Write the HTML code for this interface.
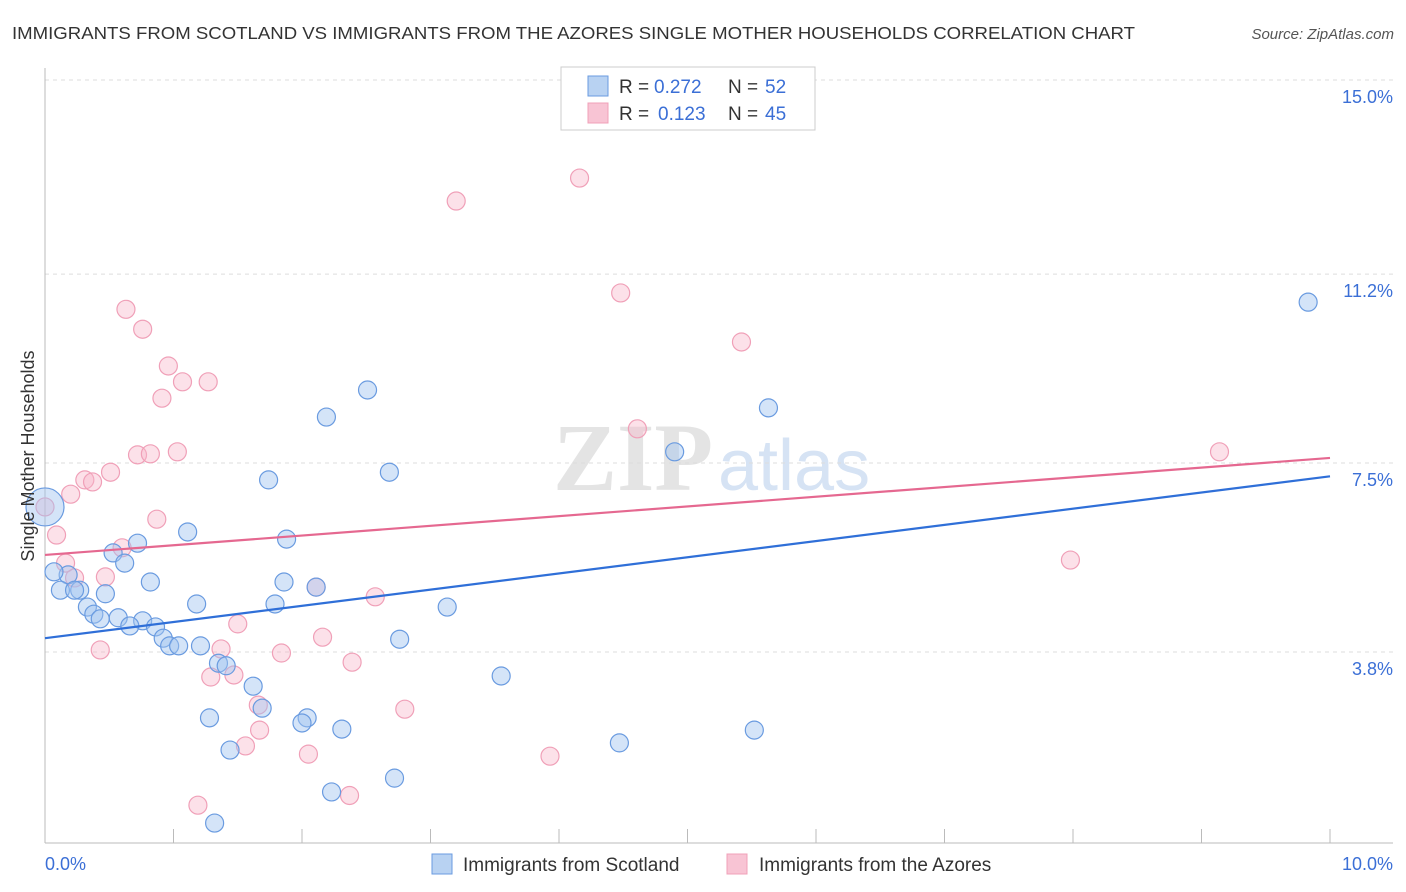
<!DOCTYPE html>
<html><head><meta charset="utf-8"><style>
body{margin:0;background:#fff;font-family:"Liberation Sans",sans-serif}
svg{display:block}
</style></head><body>
<svg id="c" width="1406" height="892">
<text x="12" y="39" font-size="17.5" fill="#333" textLength="1123" lengthAdjust="spacingAndGlyphs">IMMIGRANTS FROM SCOTLAND VS IMMIGRANTS FROM THE AZORES SINGLE MOTHER HOUSEHOLDS CORRELATION CHART</text>
<text x="1394" y="39" font-size="15" fill="#555" font-style="italic" text-anchor="end">Source: ZipAtlas.com</text>
<g><text x="553" y="490" font-size="96" font-family="Liberation Serif" fill="#e4e4e4" font-weight="bold">ZIP</text><text x="718" y="490" font-size="72" fill="#d6e3f4">atlas</text></g>
<g id="grid"></g><g id="axes"></g><g id="pts"></g><g id="lines"></g>
<text transform="translate(34,456) rotate(-90)" font-size="18" fill="#333" text-anchor="middle">Single Mother Households</text>
<g>
<rect x="561" y="67" width="254" height="63" fill="#fff" stroke="#ccc"/>
<rect x="588" y="76" width="20" height="20" fill="#b8d2f2" stroke="#6a9be0"/>
<rect x="588" y="103" width="20" height="20" fill="#f8c4d4" stroke="#f0a0b8"/>
<text x="619" y="93" font-size="19" fill="#333">R =</text><text x="654" y="93" font-size="19" fill="#3b6fd6">0.272</text>
<text x="728" y="93" font-size="19" fill="#333">N =</text><text x="765" y="93" font-size="19" fill="#3b6fd6">52</text>
<text x="619" y="120" font-size="19" fill="#333">R =</text><text x="658" y="120" font-size="19" fill="#3b6fd6">0.123</text>
<text x="728" y="120" font-size="19" fill="#333">N =</text><text x="765" y="120" font-size="19" fill="#3b6fd6">45</text>
</g>
<g>
<rect x="432" y="854" width="20" height="20" fill="#b8d2f2" stroke="#6a9be0"/>
<text x="463" y="871" font-size="19" fill="#333">Immigrants from Scotland</text>
<rect x="727" y="854" width="20" height="20" fill="#f8c4d4" stroke="#f0a0b8"/>
<text x="759" y="871" font-size="19" fill="#333">Immigrants from the Azores</text>
</g>
</svg>
<script>
const yTicks=[15.0,11.2,7.5,3.8];
const yTickLabels=["15.0%","11.2%","7.5%","3.8%"];
const xTickLabels=["0.0%","10.0%"];
const blueX=[9.83,5.63,2.51,2.19,4.90,2.68,1.74,1.11,1.88,0.72,0.53,0.62,0.18,0.07,0.82,1.86,2.11,0.12,0.27,0.23,0.47,1.18,1.79,3.13,0.33,0.38,0.43,0.57,0.76,0.66,0.86,0.92,0.97,1.04,1.21,2.76,1.35,1.41,1.62,3.55,1.69,1.28,2.04,2.00,2.31,5.52,4.47,1.44,2.72,2.23,1.32,0.0];
const blueY=[10.65,8.58,8.93,8.40,7.72,7.32,7.17,6.15,6.01,5.93,5.74,5.54,5.31,5.37,5.17,5.17,5.07,5.01,5.01,5.01,4.94,4.74,4.74,4.68,4.68,4.54,4.45,4.47,4.41,4.31,4.29,4.07,3.92,3.92,3.92,4.05,3.58,3.53,3.13,3.33,2.70,2.51,2.51,2.41,2.29,2.27,2.02,1.88,1.33,1.06,0.45,6.64];
const pinkX=[4.16,3.20,4.48,0.63,0.76,5.42,0.96,1.07,1.27,0.91,4.61,0.72,0.82,1.03,0.51,0.31,0.37,0.20,0.0,0.87,0.09,0.16,0.60,9.14,7.98,0.23,0.47,2.11,2.57,1.50,0.43,2.16,1.37,1.84,2.39,1.29,1.47,1.66,2.80,1.67,1.56,2.05,3.93,1.19,2.37];
const pinkY=[13.08,12.63,10.83,10.51,10.12,9.87,9.40,9.09,9.09,8.77,8.17,7.66,7.68,7.72,7.32,7.17,7.13,6.89,6.64,6.40,6.09,5.54,5.84,7.72,5.60,5.25,5.27,5.07,4.88,4.35,3.84,4.09,3.86,3.78,3.60,3.31,3.35,2.76,2.68,2.27,1.96,1.80,1.76,0.80,0.99];
const blueTrend=[4.07,7.24];
const pinkTrend=[5.70,7.60];
const NS="http://www.w3.org/2000/svg";
const xs=v=>45+v*128.5, ys=v=>80+(15-v)*51.07;
function mk(t,a,p){const e=document.createElementNS(NS,t);for(const k in a)e.setAttribute(k,a[k]);p.appendChild(e);return e;}
const grid=document.getElementById('grid'),axes=document.getElementById('axes');
yTicks.forEach((v,i)=>{
 const l=mk('line',{x1:45,x2:1393,y1:ys(v),y2:ys(v),stroke:'#ddd','stroke-dasharray':'4,4'},grid);
 
 
 const t=mk('text',{x:1393,y:ys(v)+23,'font-size':18,fill:'#3b6fd6','text-anchor':'end'},axes);
 t.textContent=yTickLabels[i];
 
 
});
mk('line',{x1:45,x2:45,y1:68,y2:843,stroke:'#bbb'},axes);
mk('line',{x1:45,x2:1393,y1:843,y2:843,stroke:'#bbb'},axes);
for(let i=0;i<=10;i++){const t=mk('line',{x1:xs(i),x2:xs(i),y1:843,y2:829,stroke:'#bbb'},axes);
 
 }
[[xs(0),'start'],[xs(10)+63,'end']].forEach((p,i)=>{const t=mk('text',{x:p[0],y:870,'font-size':18,fill:'#3b6fd6','text-anchor':p[1]},axes);t.textContent=xTickLabels[i];
 
 });
const pts=document.getElementById('pts');
pinkX.forEach((x,i)=>{const c=mk('circle',{cx:xs(x),cy:ys(pinkY[i]),r:9,fill:'rgba(248,180,200,0.4)',stroke:'#f0a0b8','stroke-width':1.2},pts);
 
 });
blueX.forEach((x,i)=>{const c=mk('circle',{cx:xs(x),cy:ys(blueY[i]),r:i==51?19:9,fill:'rgba(160,196,240,0.45)',stroke:'#6a9be0','stroke-width':1.2},pts);
 
 });
const lines=document.getElementById('lines');
const bl=mk('line',{x1:xs(0),x2:xs(10),y1:ys(blueTrend[0]),y2:ys(blueTrend[1]),stroke:'#2f6fd8','stroke-width':2.2},lines);


const pl=mk('line',{x1:xs(0),x2:xs(10),y1:ys(pinkTrend[0]),y2:ys(pinkTrend[1]),stroke:'#e56890','stroke-width':2.2},lines);


</script>
</body></html>
